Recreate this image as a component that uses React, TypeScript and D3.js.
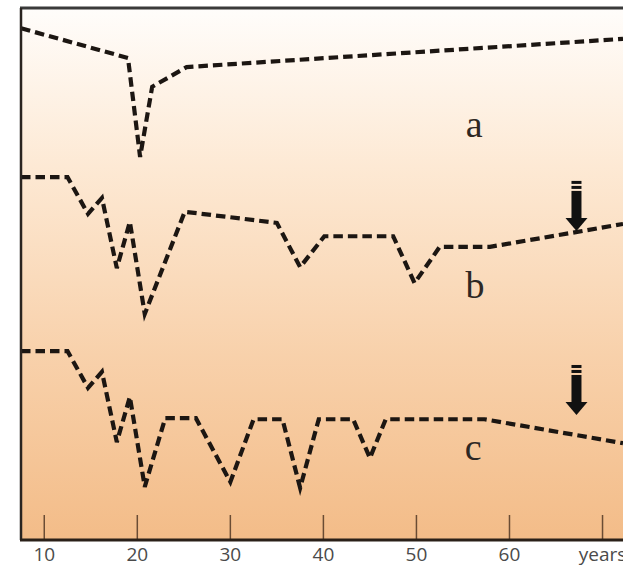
import React from "react";
import * as d3 from "d3";

type Pt = [number, number];

// years on x, relative level (0-100) on y
const seriesA: Pt[] = [
  [7.5, 96.2], [19.0, 90.6], [20.3, 72.0], [21.6, 85.2], [25.3, 88.9], [72.2, 94.2],
];
const seriesB: Pt[] = [
  [7.5, 68.2], [12.5, 68.2], [14.7, 61.3], [16.2, 64.3], [17.8, 51.1], [19.2, 59.8],
  [20.8, 42.5], [25.1, 61.7], [35.0, 59.6], [37.5, 51.3], [40.1, 57.1], [47.5, 57.1],
  [49.8, 48.3], [52.5, 55.1], [57.9, 55.1], [72.2, 59.4],
];
const seriesC: Pt[] = [
  [7.5, 35.5], [12.5, 35.5], [14.7, 28.6], [16.2, 31.6], [17.8, 18.4], [19.2, 26.9],
  [20.8, 10.0], [23.0, 22.9], [26.3, 22.9], [30.0, 10.9], [32.5, 22.7], [35.6, 22.7],
  [37.5, 9.8], [39.5, 22.7], [43.2, 22.7], [45.0, 15.4], [46.7, 22.7], [57.3, 22.7],
  [72.2, 18.2],
];
const tickValues = [10, 20, 30, 40, 50, 60, 70];
const tickLabels = ["10", "20", "30", "40", "50", "60", "years"];
const seriesLabels = [
  { text: "a", x: 56.2, y: 75.8 },
  { text: "b", x: 56.3, y: 45.5 },
  { text: "c", x: 56.1, y: 15.0 },
];
const arrows = [
  { x: 67.2, tip: 58.1 },
  { x: 67.2, tip: 23.5 },
];

const W = 623;
const H = 567;
const left = 21;
const top = 8;
const bottom = 540;

export default function App() {
  const x = d3.scaleLinear().domain([7.5, 72.2]).range([left, W]);
  const y = d3.scaleLinear().domain([0, 100]).range([bottom, top]);
  const line = d3
    .line<Pt>()
    .x((d) => x(d[0]))
    .y((d) => y(d[1]));

  const dashed = {
    fill: "none",
    stroke: "#1c1612",
    strokeWidth: 4.2,
    strokeDasharray: "9.5 5",
    strokeLinejoin: "miter" as const,
  };

  return (
    <svg
      width={W}
      height={H}
      style={{ position: "absolute", left: 0, top: 0, display: "block", background: "#ffffff" }}
    >
      <defs>
        <linearGradient id="bg" x1="0" y1="0" x2="0" y2="1">
          <stop offset="0" stopColor="#fffdfb" />
          <stop offset="0.3" stopColor="#fde9d4" />
          <stop offset="0.65" stopColor="#f8d1ab" />
          <stop offset="1" stopColor="#f3bc88" />
        </linearGradient>
      </defs>
      <rect x={left} y={top} width={W - left} height={bottom - top} fill="url(#bg)" />

      {[seriesA, seriesB, seriesC].map((s, i) => (
        <path key={i} d={line(s) ?? ""} {...dashed} />
      ))}

      {arrows.map((a, i) => {
        const cx = x(a.x);
        const tipY = y(a.tip);
        const headTop = tipY - 13;
        const shaftTop = tipY - 50;
        const hw = 5;
        return (
          <g key={i} fill="#111">
            <rect x={cx - hw} y={shaftTop} width={hw * 2} height={3} />
            <rect x={cx - hw} y={shaftTop + 5} width={hw * 2} height={3} />
            <rect x={cx - hw} y={shaftTop + 10} width={hw * 2} height={headTop - shaftTop - 9} />
            <path d={`M${cx - 11},${headTop} L${cx + 11},${headTop} L${cx},${tipY} Z`} />
          </g>
        );
      })}

      {seriesLabels.map((l) => (
        <text
          key={l.text}
          x={x(l.x)}
          y={y(l.y)}
          textAnchor="middle"
          fontFamily="'Liberation Serif', serif"
          fontSize={38}
          fill="#2e2824"
        >
          {l.text}
        </text>
      ))}

      {tickValues.map((t, i) => (
        <g key={t}>
          <line x1={x(t)} x2={x(t)} y1={bottom - 25} y2={bottom} stroke="#6a4c34" strokeWidth={1.5} />
          <text
            x={x(t)}
            y={561}
            textAnchor="middle"
            fontFamily="'Open Sans', sans-serif"
            fontSize={19}
            fill="#4a4a4a"
          >
            {tickLabels[i]}
          </text>
        </g>
      ))}

      <line x1={left - 1} x2={W} y1={top} y2={top} stroke="#3a3a3a" strokeWidth={3} />
      <line x1={left} x2={left} y1={top} y2={bottom} stroke="#2a2420" strokeWidth={2.5} />
      <line x1={left - 1} x2={W} y1={bottom} y2={bottom} stroke="#2a2018" strokeWidth={3} />
    </svg>
  );
}
